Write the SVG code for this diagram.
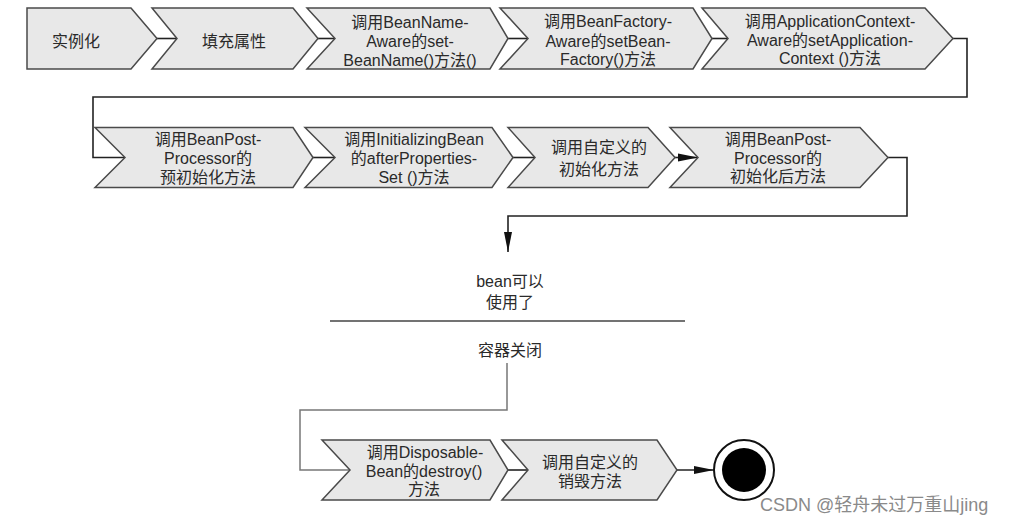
<svg xmlns="http://www.w3.org/2000/svg" width="1012" height="523" viewBox="0 0 1012 523">
<defs>
<style>
.n{fill:#e8e8e8;stroke:#4a4a4a;stroke-width:1.5;stroke-linejoin:miter}
.t{font-family:"Liberation Sans","Noto Sans CJK SC",sans-serif;font-size:16px;fill:#2a2a2a;text-anchor:middle}
.c{fill:none;stroke:#222;stroke-width:1.6}
.g{fill:none;stroke:#777;stroke-width:1.5}
</style>
<marker id="ah" viewBox="0 0 10 10" refX="10" refY="5" markerWidth="10" markerHeight="10" markerUnits="userSpaceOnUse" orient="auto">
<path d="M0,1 L10,5 L0,9 z" fill="#111"/>
</marker>
<marker id="ahl" viewBox="0 0 20 10" refX="20" refY="5" markerWidth="20" markerHeight="10" markerUnits="userSpaceOnUse" orient="auto">
<path d="M0,1 L20,5 L0,9 z" fill="#111"/>
</marker>
</defs>
<rect width="1012" height="523" fill="#fff"/>
<g id="connectors">
<path class="c" d="M157,38.5 H177"/>
<path class="c" d="M318,38.5 H335"/>
<path class="c" d="M508,38.5 H528"/>
<path class="c" d="M712,38.5 H728"/>
<path class="c" d="M953,38.5 H967 V97 H93 V157.5 H125"/>
<path class="c" d="M313,157.5 H335"/>
<path class="c" d="M513,157.5 H535"/>
<path class="c" d="M675,157.5 H698" marker-end="url(#ahl)"/>
<path class="c" d="M888,157.5 H907 V216 H508 V252" marker-end="url(#ahl)"/>
<path class="g" d="M507,363 V410 H300 V470 H350"/>
<path class="c" d="M508,470 H528"/>
<path class="c" d="M677,470 H714" marker-end="url(#ahl)"/>
</g>
<g id="n1"><path class="n" d="M27,8 H131 L157,38.5 L131,69 H27 Z"/><text class="t" x="76" y="47">实例化</text></g>
<g id="n2"><path class="n" d="M152,8 H293 L318,38.5 L293,69 H152 L177,38.5 Z"/><text class="t" x="234" y="47">填充属性</text></g>
<g id="n3"><path class="n" d="M307,8 H490 L508,38.5 L490,69 H307 L335,38.5 Z"/><text class="t" x="410" y="28">调用BeanName-</text><text class="t" x="410" y="47">Aware的set-</text><text class="t" x="410" y="66">BeanName()方法()</text></g>
<g id="n4"><path class="n" d="M500,8 H693 L712,38.5 L693,69 H500 L528,38.5 Z"/><text class="t" x="608" y="27">调用BeanFactory-</text><text class="t" x="608" y="46.5">Aware的setBean-</text><text class="t" x="608" y="65">Factory()方法</text></g>
<g id="n5"><path class="n" d="M702,8 H925 L953,38.5 L925,69 H702 L728,38.5 Z"/><text class="t" x="830" y="27">调用ApplicationContext-</text><text class="t" x="830" y="46">Aware的setApplication-</text><text class="t" x="830" y="64">Context ()方法</text></g>
<g id="n6"><path class="n" d="M95,127.5 H293 L313,157.5 L293,187.5 H95 L125,157.5 Z"/><text class="t" x="208" y="144.5">调用BeanPost-</text><text class="t" x="208" y="164">Processor的</text><text class="t" x="208" y="183">预初始化方法</text></g>
<g id="n7"><path class="n" d="M305,127.5 H492 L513,157.5 L492,187.5 H305 L335,157.5 Z"/><text class="t" x="414" y="144.5">调用InitializingBean</text><text class="t" x="414" y="164">的afterProperties-</text><text class="t" x="414" y="183">Set ()方法</text></g>
<g id="n8"><path class="n" d="M508,127.5 H648 L675,157.5 L648,187.5 H508 L535,157.5 Z"/><text class="t" x="599" y="153">调用自定义的</text><text class="t" x="599" y="175">初始化方法</text></g>
<g id="n9"><path class="n" d="M670,127.5 H860 L888,157.5 L860,187.5 H670 L698,157.5 Z"/><text class="t" x="778" y="145">调用BeanPost-</text><text class="t" x="778" y="163.5">Processor的</text><text class="t" x="778" y="182">初始化后方法</text></g>
<g id="ready"><text class="t" x="510" y="287">bean可以</text><text class="t" x="510" y="308">使用了</text></g>
<g id="divider"><path d="M330,321 H685" stroke="#444" stroke-width="1.5" fill="none"/></g>
<g id="close"><text class="t" x="510" y="356">容器关闭</text></g>
<g id="n10"><path class="n" d="M322,440 H490 L508,470 L490,500 H322 L350,470 Z"/><text class="t" x="425" y="458">调用Disposable-</text><text class="t" x="424" y="476.5">Bean的destroy()</text><text class="t" x="424" y="494.5">方法</text></g>
<g id="n11"><path class="n" d="M502,440 H657 L677,470 L657,500 H502 L528,470 Z"/><text class="t" x="590" y="468">调用自定义的</text><text class="t" x="590" y="487">销毁方法</text></g>
<g id="end"><circle cx="744" cy="470" r="30" fill="#fff" stroke="#111" stroke-width="2"/><circle cx="744" cy="470" r="22" fill="#000"/></g>
<text x="760" y="511" font-family="'Liberation Sans','Noto Sans CJK SC',sans-serif" font-size="18" fill="#8a8a8a">CSDN @轻舟未过万重山jing</text>
</svg>
